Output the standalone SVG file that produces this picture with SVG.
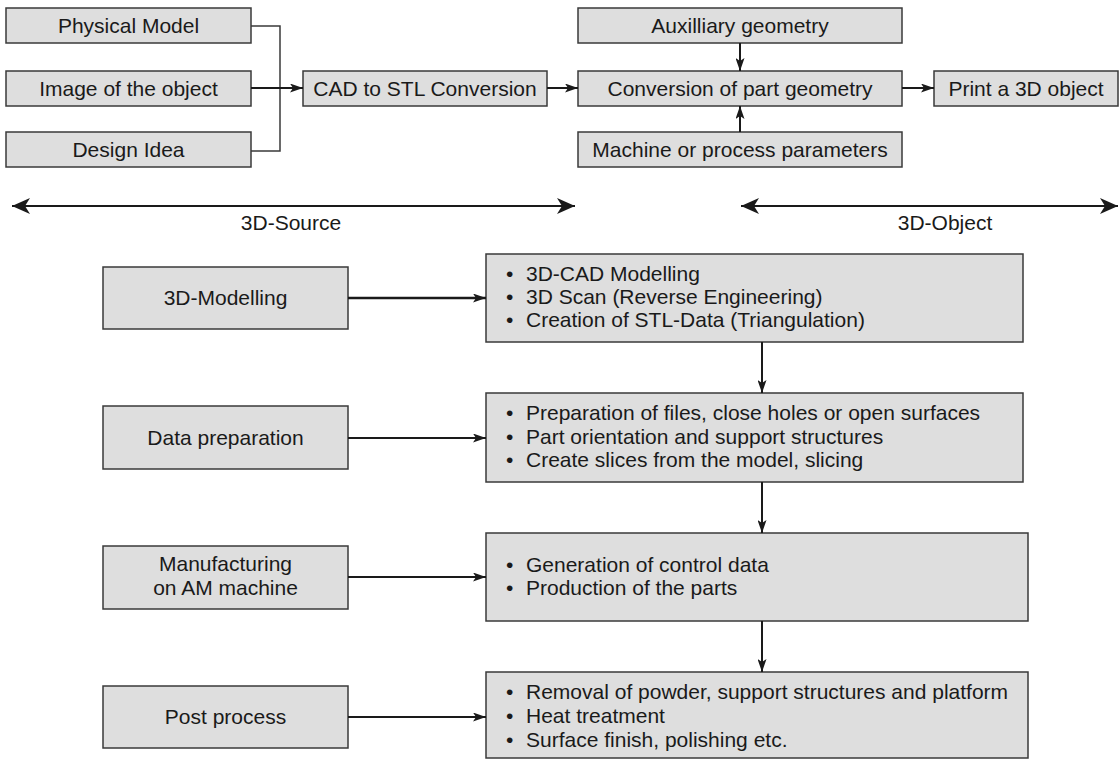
<svg xmlns="http://www.w3.org/2000/svg" width="1120" height="760" viewBox="0 0 1120 760">
<style>
.box{fill:#dedede;stroke:#3a3a3a;stroke-width:1.5}
.t{font-family:"Liberation Sans",Arial,sans-serif;font-size:21px;fill:#1a1a1a;text-anchor:middle}
.b{font-family:"Liberation Sans",Arial,sans-serif;font-size:21px;fill:#1a1a1a}
.c{fill:none;stroke:#1a1a1a;stroke-width:2}
.thin{fill:none;stroke:#3a3a3a;stroke-width:1.5}
.lab{font-family:"Liberation Sans",Arial,sans-serif;font-size:21px;fill:#1a1a1a;text-anchor:middle}
</style>
<defs>
<marker id="ah" viewBox="0 0 13 9" refX="13" refY="4.5" markerWidth="13" markerHeight="9" markerUnits="userSpaceOnUse" orient="auto"><path d="M0,0 L13,4.5 L0,9 L3,4.5 z" fill="#1a1a1a"/></marker>
<marker id="dh" viewBox="0 0 18 16" refX="18" refY="8" markerWidth="18" markerHeight="16" markerUnits="userSpaceOnUse" orient="auto-start-reverse"><path d="M0,0 L18,8 L0,16 L5,8 z" fill="#1a1a1a"/></marker>
</defs>
<rect width="1120" height="760" fill="#ffffff"/>

<g id="physical-model"><rect class="box" x="6" y="8" width="245" height="35"/><text class="t" x="128.5" y="33">Physical Model</text></g>
<g id="image-of-object"><rect class="box" x="6" y="71" width="245" height="35"/><text class="t" x="128.5" y="96">Image of the object</text></g>
<g id="design-idea"><rect class="box" x="6" y="132" width="245" height="35"/><text class="t" x="128.5" y="157">Design Idea</text></g>
<g id="cad-stl"><rect class="box" x="303" y="71" width="244" height="35"/><text class="t" x="425" y="96">CAD to STL Conversion</text></g>
<g id="auxiliary"><rect class="box" x="578" y="8" width="324" height="35"/><text class="t" x="740" y="33">Auxilliary geometry</text></g>
<g id="conversion"><rect class="box" x="578" y="71" width="324" height="35"/><text class="t" x="740" y="96">Conversion of part geometry</text></g>
<g id="machine-params"><rect class="box" x="578" y="132" width="324" height="35"/><text class="t" x="740" y="157">Machine or process parameters</text></g>
<g id="print"><rect class="box" x="934" y="71" width="184" height="35"/><text class="t" x="1026" y="96">Print a 3D object</text></g>

<g id="scale">
<line class="c" x1="12" y1="206" x2="575" y2="206" marker-start="url(#dh)" marker-end="url(#dh)"/>
<text class="lab" x="291" y="230">3D-Source</text>
<line class="c" x1="741" y1="206" x2="1118" y2="206" marker-start="url(#dh)" marker-end="url(#dh)"/>
<text class="lab" x="945" y="230">3D-Object</text>
</g>

<g id="modelling"><rect class="box" x="103" y="267" width="245" height="62"/><text class="t" x="225.5" y="305">3D-Modelling</text></g>
<g id="data-prep"><rect class="box" x="103" y="406" width="245" height="63"/><text class="t" x="225.5" y="445">Data preparation</text></g>
<g id="manufacturing"><rect class="box" x="103" y="546" width="245" height="63"/><text class="t" x="225.5" y="571">Manufacturing</text><text class="t" x="225.5" y="595">on AM machine</text></g>
<g id="post-process"><rect class="box" x="103" y="686" width="245" height="62"/><text class="t" x="225.5" y="724">Post process</text></g>

<g id="modelling-details"><rect class="box" x="486" y="254" width="537" height="88"/>
<text class="b" x="506" y="281">•</text><text class="b" x="526" y="281">3D-CAD Modelling</text>
<text class="b" x="506" y="304">•</text><text class="b" x="526" y="304">3D Scan (Reverse Engineering)</text>
<text class="b" x="506" y="327">•</text><text class="b" x="526" y="327">Creation of STL-Data (Triangulation)</text></g>
<g id="data-prep-details"><rect class="box" x="486" y="393" width="537" height="89"/>
<text class="b" x="506" y="420">•</text><text class="b" x="526" y="420">Preparation of files, close holes or open surfaces</text>
<text class="b" x="506" y="444">•</text><text class="b" x="526" y="444">Part orientation and support structures</text>
<text class="b" x="506" y="467">•</text><text class="b" x="526" y="467">Create slices from the model, slicing</text></g>
<g id="manufacturing-details"><rect class="box" x="486" y="533" width="542" height="88"/>
<text class="b" x="506" y="572">•</text><text class="b" x="526" y="572">Generation of control data</text>
<text class="b" x="506" y="595">•</text><text class="b" x="526" y="595">Production of the parts</text></g>
<g id="post-process-details"><rect class="box" x="486" y="672" width="542" height="86"/>
<text class="b" x="506" y="699">•</text><text class="b" x="526" y="699">Removal of powder, support structures and platform</text>
<text class="b" x="506" y="723">•</text><text class="b" x="526" y="723">Heat treatment</text>
<text class="b" x="506" y="747">•</text><text class="b" x="526" y="747">Surface finish, polishing etc.</text></g>

<g id="connectors">
<polyline class="thin" points="251,26 280,26 280,151 251,151"/>
<line class="c" x1="251" y1="88" x2="303" y2="88" marker-end="url(#ah)"/>
<line class="c" x1="547" y1="88" x2="578" y2="88" marker-end="url(#ah)"/>
<line class="c" x1="902" y1="88" x2="934" y2="88" marker-end="url(#ah)"/>
<line class="c" x1="740" y1="43" x2="740" y2="71" marker-end="url(#ah)"/>
<line class="c" x1="740" y1="132" x2="740" y2="106" marker-end="url(#ah)"/>
<line class="c" style="stroke-width:2.5" x1="348" y1="298" x2="486" y2="298" marker-end="url(#ah)"/>
<line class="c" x1="348" y1="438" x2="486" y2="438" marker-end="url(#ah)"/>
<line class="c" x1="348" y1="577" x2="486" y2="577" marker-end="url(#ah)"/>
<line class="c" x1="348" y1="717" x2="486" y2="717" marker-end="url(#ah)"/>
<line class="c" x1="762" y1="342" x2="762" y2="393" marker-end="url(#ah)"/>
<line class="c" x1="762" y1="482" x2="762" y2="533" marker-end="url(#ah)"/>
<line class="c" x1="762" y1="621" x2="762" y2="672" marker-end="url(#ah)"/>
</g>
</svg>
